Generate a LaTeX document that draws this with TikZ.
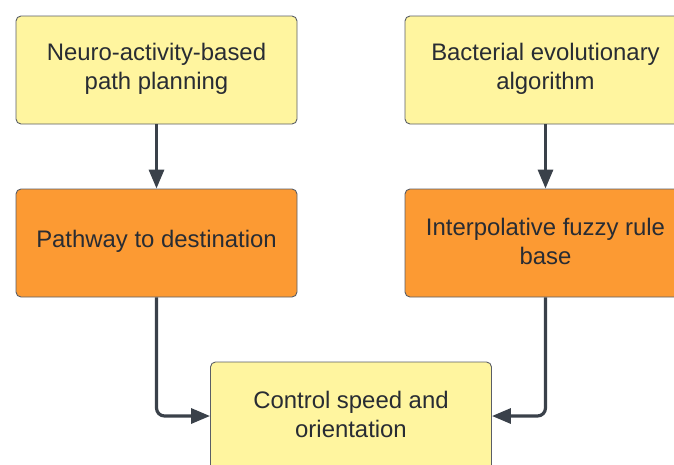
\documentclass[tikz,border=0pt]{standalone}
\usepackage{fontspec}
\setmainfont{Liberation Sans}
\usetikzlibrary{arrows.meta}
\definecolor{boxyellow}{HTML}{FFF59F}
\definecolor{boxorange}{HTML}{FC9A33}
\definecolor{txtcol}{HTML}{282C33}
\definecolor{linecol}{HTML}{3A414A}
\definecolor{edgecol}{HTML}{5A5E66}
\newcommand\liftline[1]{\raisebox{1.5pt}[\height][\depth]{#1}}
\tikzset{
  flowbox/.style={draw=edgecol, line width=0.9pt, rounded corners=5pt,
    minimum width=281pt, minimum height=108pt, inner sep=0pt,
    align=center, text=txtcol,
    font=\fontsize{23.9pt}{29pt}\selectfont},
  ybox/.style={flowbox, fill=boxyellow},
  obox/.style={flowbox, fill=boxorange},
  conn/.style={draw=linecol, line width=3.2pt, rounded corners=8pt,
    -{Triangle[length=19pt,width=15pt]}}
}
\begin{document}
\begin{tikzpicture}[x=1pt,y=-1pt]
\useasboundingbox (0,0) rectangle (674,464);
\begin{scope}
\clip (0,0) rectangle (674,464);
\node[ybox] (n1) at (156.5,70) {\liftline{Neuro-activity-based}\\\liftline{path planning}};
\node[ybox] (n2) at (545.5,70) {\liftline{Bacterial evolutionary}\\\liftline{algorithm}};
\node[obox] (o1) at (156.5,243) {\liftline{Pathway to destination}};
\node[obox] (o2) at (545.5,243) {\liftline{Interpolative fuzzy rule}\\\liftline{base}};
\node[ybox] (c) at (351,416) {\liftline{Control speed and}\\\liftline{orientation}};
\draw[conn] (n1) -- (o1);
\draw[conn] (n2) -- (o2);
\draw[conn] (o1.south) |- (c.west);
\draw[conn] (o2.south) |- (c.east);
\end{scope}
\end{tikzpicture}
\end{document}
